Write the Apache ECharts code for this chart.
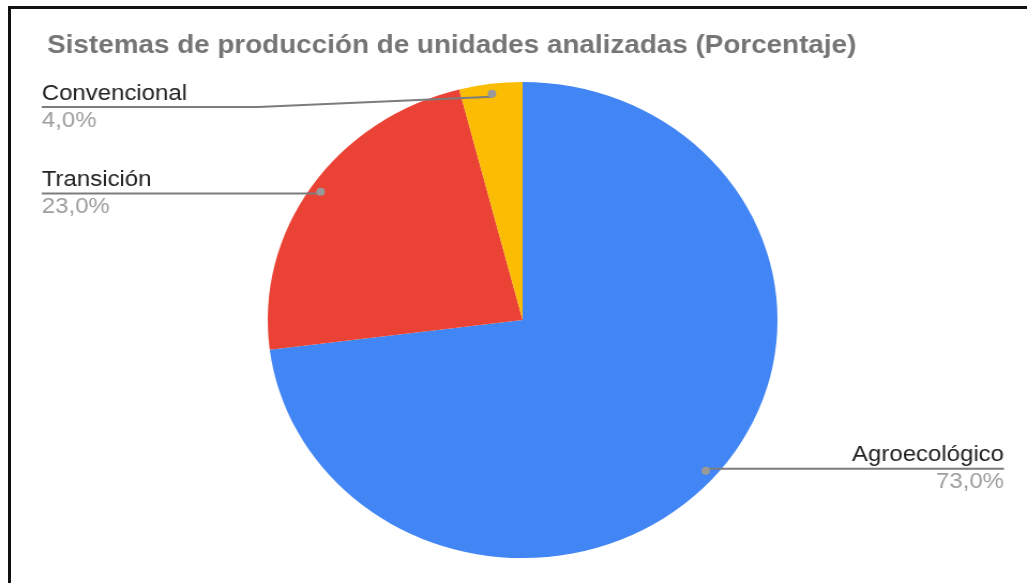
<!DOCTYPE html>
<html>
<head>
<meta charset="utf-8">
<script src="https://cdn.jsdelivr.net/npm/echarts@6/dist/echarts.min.js"></script>
<style>
  html, body { margin: 0; padding: 0; background: #fff; }
  #wrap { position: relative; width: 1027px; height: 583px; overflow: hidden; }
  /* the reference picture is stretched a little horizontally */
  #chart { position: absolute; left: 0; top: 0; width: 959px; height: 583px;
           transform: scaleX(1.0709); transform-origin: 0 0; }
  #frame { position: absolute; left: 8px; top: 6px; right: -10px; bottom: -10px;
           border-left: 3px solid #111; border-top: 3px solid #111; pointer-events: none; }
</style>
</head>
<body>
<div id="wrap">
  <div id="chart"></div>
  <div id="frame"></div>
</div>
<script>
const categories = ['Agroecológico', 'Transición', 'Convencional'];
const values = [73.0, 23.0, 4.0];
const colors = ['#4285F4', '#EA4335', '#FBBC04'];

const chart = echarts.init(document.getElementById('chart'));

const pieData = categories.map((name, i) => ({
  name: name,
  value: values[i],
  itemStyle: { color: colors[i] }
}));
// invisible copies, used only to hang labels / dots on top of the pie
const ghostData = categories.map((name, i) => ({ name: name, value: values[i] }));

const fmtPct = v => v.toFixed(1).replace('.', ',') + '%';
const font = 'Liberation Sans, Arial, sans-serif';
const center = [488, 320];

const option = {
  animation: false,
  backgroundColor: '#fff',
  title: {
    text: 'Sistemas de producción de unidades analizadas (Porcentaje)',
    left: 39,
    top: 28,
    textStyle: {
      fontFamily: font,
      fontSize: 26,
      fontWeight: 'bold',
      color: '#757575'
    }
  },
  series: [
    {
      type: 'pie',
      center: center,
      radius: 238,
      startAngle: 90,
      clockwise: true,
      data: pieData,
      emphasis: { disabled: true },
      label: { show: false },
      labelLine: { show: false }
    },
    {
      // labels + leader lines
      type: 'pie',
      center: center,
      radius: 238,
      startAngle: 90,
      clockwise: true,
      silent: true,
      z: 5,
      data: ghostData,
      itemStyle: { color: 'rgba(0,0,0,0)' },
      emphasis: { disabled: true },
      label: {
        show: true,
        position: 'outside',
        formatter: p => '{n|' + p.name + '}\n{p|' + fmtPct(p.value) + '}',
        rich: {
          n: { fontFamily: font, fontSize: 22.4, color: '#222', lineHeight: 27 },
          p: { fontFamily: font, fontSize: 22.4, color: '#9e9e9e', lineHeight: 27 }
        }
      },
      labelLine: {
        show: true,
        length: 10,
        length2: 10,
        lineStyle: { color: '#7c7c7c', width: 2 }
      },
      labelLayout: function (p) {
        const pts = p.labelLinePoints;
        const ux = pts[1][0] - pts[0][0];
        const uy = pts[1][1] - pts[0][1];
        const len = Math.sqrt(ux * ux + uy * uy) || 1;
        const dot = [pts[0][0] - ux / len * 13, pts[0][1] - uy / len * 13];
        const left = pts[2][0] < pts[1][0];
        const lineY = Math.max(dot[1], 107);
        const x = left ? 39 : 937.5;
        const bend = [dot[0] + (left ? -219 : 219), lineY];
        return {
          x: x,
          y: lineY,
          align: left ? 'left' : 'right',
          verticalAlign: 'middle',
          labelLinePoints: [dot, bend, [x, lineY]]
        };
      }
    },
    {
      // dots at the start of each leader line
      type: 'pie',
      center: center,
      radius: [219, 231],
      startAngle: 90,
      clockwise: true,
      silent: true,
      z: 6,
      data: ghostData,
      itemStyle: { color: 'rgba(0,0,0,0)' },
      emphasis: { disabled: true },
      label: {
        show: true,
        position: 'inside',
        formatter: '{d| }',
        rich: { d: { width: 8, height: 8, borderRadius: 4, backgroundColor: '#999' } }
      },
      labelLine: { show: false }
    }
  ]
};

chart.setOption(option);
</script>
</body>
</html>
